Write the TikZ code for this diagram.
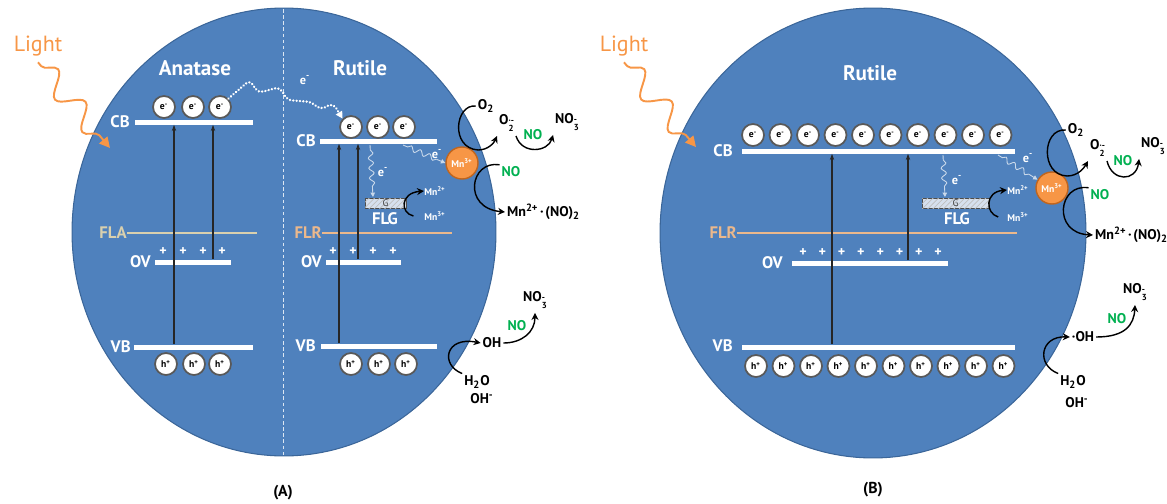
\documentclass[tikz,border=0pt]{standalone}
\usepackage{fontspec}
\setmainfont{PT Sans}
\usetikzlibrary{arrows.meta,decorations.pathmorphing,patterns}
\definecolor{tiblue}{HTML}{4F81BD}
\definecolor{tiedge}{HTML}{3B6699}
\definecolor{lightorange}{HTML}{F79646}
\definecolor{mnedge}{HTML}{C0651E}
\definecolor{nogreen}{HTML}{00B050}
\definecolor{flacol}{HTML}{D9D0AE}
\definecolor{flrcol}{HTML}{EBB88C}
\definecolor{gfill}{HTML}{D6E0EE}
\newcommand{\bandfont}{\fontsize{9.5}{10}\selectfont\bfseries}
\newcommand{\chemss}[2]{\raisebox{-0.55ex}{\fontsize{5}{5}\selectfont\begin{tabular}{@{}l@{}}#2\\[-0.35ex]#1\end{tabular}}}

\begin{document}
\begin{tikzpicture}[x=0.02cm,y=-0.02cm,
  bandline/.style={fill=white,inner sep=0pt,minimum height=0.1cm},
  bandlabel/.style={text=white,font=\bandfont,anchor=east,inner sep=0pt},
  carrier/.style={circle,draw=black!65,line width=1pt,fill=white,inner sep=0pt,minimum size=0.44cm,font=\fontsize{5.5}{5.5}\selectfont\bfseries},
  plusmark/.style={text=white,font=\fontsize{8}{8}\selectfont\bfseries,inner sep=0pt},
  excite/.style={draw=black!85,line width=0.6pt,-{Stealth[length=3.5pt,width=2.5pt]}},
  fermi/.style={line width=0.8pt},
  chem/.style={font=\fontsize{8}{9}\selectfont\bfseries,inner sep=1pt},
  nolabel/.style={chem,text=nogreen},
  react/.style={draw=black,line width=0.8pt,-{Stealth[length=4pt,width=4pt]}},
  ewave/.style={draw=white!70!tiblue,line width=0.5pt,-{Triangle[length=2.5pt,width=2.5pt]},decorate,decoration={snake,amplitude=0.5mm,segment length=2mm,pre length=1mm,post length=1.2mm}},
  elabel/.style={text=white,font=\fontsize{7}{7}\selectfont\bfseries,inner sep=0pt},
  gbox/.style={draw=black!70,line width=0.5pt,fill=gfill,postaction={pattern=north east lines,pattern color=black!25},minimum height=0.2cm,inner sep=0pt,text=black!75,font=\fontsize{5.5}{5.5}\selectfont},
  mnion/.style={circle,fill=lightorange,draw=mnedge,line width=0.8pt,minimum size=0.64cm,inner sep=0pt,text=white,font=\fontsize{5.5}{6}\selectfont\bfseries},
  smallion/.style={text=white,font=\fontsize{5.5}{6}\selectfont\bfseries,anchor=west,inner sep=0pt},
  lightwave/.style={draw=lightorange,line width=1.1pt,-{Triangle[length=6pt,width=6pt]},decorate,decoration={snake,amplitude=2.2mm,segment length=8.5mm,pre length=1mm,post length=3mm}},
  hop/.style={draw=white,line width=1.4pt,dash pattern=on 0.1pt off 1.8pt,line cap=round,rounded corners=3pt,-{Triangle[length=4pt,width=4pt]}},
  phase/.style={text=white,font=\fontsize{12}{14}\selectfont\bfseries},
  panel/.style={font=\fontsize{9}{10}\selectfont\bfseries}]
\useasboundingbox (0,0) rectangle (1167,504);
% Particles
\fill[tiblue,draw=tiedge,line width=0.6pt] (284,232) ellipse [x radius=4.24cm,y radius=4.48cm];
\fill[tiblue,draw=tiedge,line width=0.6pt] (873,233) ellipse [x radius=4.26cm,y radius=4.5cm];
\draw[white!80!tiblue,line width=0.5pt,dash pattern=on 2pt off 1.5pt] (283,9) -- (283,455);
% Light (A)
\node[text=lightorange,font=\fontsize{12.5}{14}\selectfont] (lightA) at (38,46) {Light};
\coordinate (lightAtip) at (110,148);
\draw[lightwave] (lightA.south) -- (lightAtip);
% Anatase bands
\node[phase] (anatase) at (195,68) {Anatase};
\node[bandline,minimum width=2.36cm] (cbA) at (194,122) {};
\node[bandline,minimum width=1.52cm] (ovA) at (193,262) {};
\node[bandline,minimum width=2.38cm] (vbA) at (193.5,347) {};
\node[bandlabel] (cbAl) at (130,122) {CB};
\node[bandlabel] (ovAl) at (151,262) {OV};
\node[bandlabel] (vbAl) at (131,347) {VB};
\node[bandlabel,text=flacol] (flA) at (127,233) {FLA};
\draw[fermi,flacol] (flA.east) -- (257,233);
\foreach \x [count=\i] in {164,193,220} \node[carrier] (eA\i) at (\x,107) {e\textsuperscript{-}};
\foreach \x [count=\i] in {166,194,220} \node[carrier] (hA\i) at (\x,364) {h\textsuperscript{+}};
\foreach \x [count=\i] in {163,183,203,222} \node[plusmark] (pA\i) at (\x,252) {+};
\coordinate (xA1) at (174,0);
\coordinate (xA2) at (213,0);
\draw[excite] (vbA.north -| xA1) -- (cbA.south -| xA1);
\draw[excite] (ovA.north -| xA2) -- (cbA.south -| xA2);
% Rutile bands (A)
\node[phase] (rutileA) at (360,68) {Rutile};
\node[bandline,minimum width=2.34cm] (cbRA) at (378.5,141) {};
\node[bandline,minimum width=1.5cm] (ovRA) at (363.5,262) {};
\node[bandline,minimum width=2.32cm] (vbRA) at (379,346) {};
\node[bandlabel] (cbRAl) at (316,141) {CB};
\node[bandlabel] (ovRAl) at (322,262) {OV};
\node[bandlabel] (vbRAl) at (316,346) {VB};
\node[bandlabel,text=flrcol] (flRA) at (322,233) {FLR};
\draw[fermi,flrcol] (flRA.east) -- (452,233);
\foreach \x [count=\i] in {351,378,404} \node[carrier] (eRA\i) at (\x,127) {e\textsuperscript{-}};
\foreach \x [count=\i] in {351,379,406} \node[carrier] (hRA\i) at (\x,364) {h\textsuperscript{+}};
\foreach \x [count=\i] in {333,353,373,393} \node[plusmark] (pRA\i) at (\x,252) {+};
\coordinate (xRA1) at (339,0);
\coordinate (xRA2) at (358,0);
\draw[excite] (vbRA.north -| xRA1) -- (cbRA.south -| xRA1);
\draw[excite] (ovRA.north -| xRA2) -- (cbRA.south -| xRA2);
% Electron hop anatase -> rutile
\draw[hop] (eA3.north east) -- (250,80) -- (258,93) -- (280,87) -- (287,100) -- (312,102) -- (320,110) -- (333,103) -- (eRA1.north west);
\node[elabel] (hopA) at (305,80) {e\textsuperscript{-}};
% Graphene and Mn (A)
\node[gbox,minimum width=0.82cm] (gA) at (385.5,203) {G};
\node[text=white,font=\bandfont] (flgA) at (385,219) {FLG};
\coordinate (cbRAout1) at (370,145);
\coordinate (gAin) at (373,197);
\draw[ewave] (cbRAout1) -- (gAin);
\node[elabel] (egA) at (383,172) {e\textsuperscript{-}};
\node[mnion] (mnA) at (462,163) {Mn\textsuperscript{3+}};
\coordinate (cbRAout2) at (403,145);
\draw[ewave] (cbRAout2) -- (mnA.west);
\node[elabel] (emnA) at (437,154) {e\textsuperscript{-}};
\node[smallion] (mn2A) at (424,191) {Mn\textsuperscript{2+}};
\node[smallion] (mn3A) at (424,216) {Mn\textsuperscript{3+}};
\draw[react] ([xshift=-6pt]mn3A.west) .. controls (400,213) and (400,193) .. (mn2A.west);
% Surface reactions (A)
\node[chem] (o2A) at (486,106) {O\textsubscript{2}};
\node[chem,anchor=south west] (supA) at (497,136) {O\chemss{2}{·-}};
\node[chem] (no3A) at (567,123) {NO\chemss{3}{-}};
\node[nolabel] (noA1) at (533,135) {NO};
\draw[react] (o2A.west) .. controls (455,104) and (450,148) .. (478,150) .. controls (488,150) and (494,143) .. (supA.south west);
\draw[react] (supA.south east) .. controls (522,155) and (548,152) .. (no3A.south west);
\node[nolabel] (noA2) at (511,172) {NO};
\node[chem,anchor=west] (mnnoA) at (505,212) {Mn\textsuperscript{2+}\kern1pt·\kern1pt(NO)\textsubscript{2}};
\draw[react] (noA2.north west) .. controls (470,160) and (462,208) .. (mnnoA.west);
\node[chem] (ohA) at (492,343) {OH};
\node[chem] (h2oA) at (477,382) {H\textsubscript{2}O};
\node[chem] (ohmA) at (482,399) {OH\textsuperscript{-}};
\draw[react] (h2oA.north west) .. controls (440,365) and (445,336) .. (ohA.west);
\node[nolabel] (noA3) at (517,326) {NO};
\node[chem] (no3A2) at (535,301) {NO\chemss{3}{-}};
\draw[react] (ohA.east) .. controls (522,343) and (535,332) .. (no3A2.south);
\node[panel] (labA) at (283,493) {(A)};
% Light (B)
\node[text=lightorange,font=\fontsize{12.5}{14}\selectfont] (lightB) at (624,46) {Light};
\coordinate (lightBtip) at (696,147);
\draw[lightwave] (lightB.south) -- (lightBtip);
% Rutile bands (B)
\node[phase] (rutileB) at (870,73) {Rutile};
\node[bandline,minimum width=5.46cm] (cbB) at (878.5,151) {};
\node[bandline,minimum width=3.12cm] (ovB) at (870,263) {};
\node[bandline,minimum width=5.46cm] (vbB) at (878.5,347) {};
\node[bandlabel] (cbBl) at (733,151) {CB};
\node[bandlabel] (ovBl) at (783,263) {OV};
\node[bandlabel] (vbBl) at (733,346) {VB};
\node[bandlabel,text=flrcol] (flB) at (737,233) {FLR};
\draw[fermi,flrcol] (flB.east) -- (1017,233);
\foreach \i in {0,...,9} \node[carrier] (eB\i) at ({753+27.5*\i},135) {e\textsuperscript{-}};
\foreach \i in {0,...,9} \node[carrier] (hB\i) at ({756+27.5*\i},366) {h\textsuperscript{+}};
\foreach \i in {0,...,7} \node[plusmark] (pB\i) at ({803+19.3*\i},253) {+};
\coordinate (xB1) at (832,0);
\coordinate (xB2) at (908,0);
\draw[excite] (vbB.north -| xB1) -- (cbB.south -| xB1);
\draw[excite] (ovB.north -| xB2) -- (cbB.south -| xB2);
% Graphene and Mn (B)
\node[gbox,minimum width=1.34cm] (gB) at (955.5,203) {G};
\node[text=white,font=\bandfont] (flgB) at (957,219) {FLG};
\coordinate (cbBout1) at (943,155);
\coordinate (gBin) at (945,197);
\draw[ewave] (cbBout1) -- (gBin);
\node[elabel] (egB) at (957,180) {e\textsuperscript{-}};
\node[mnion] (mnB) at (1052,188) {Mn\textsuperscript{3+}};
\coordinate (cbBout2) at (998,155);
\draw[ewave] (cbBout2) -- (mnB.150);
\node[elabel] (emnB) at (1028,158) {e\textsuperscript{-}};
\node[smallion] (mn2B) at (1007,190) {Mn\textsuperscript{2+}};
\node[smallion] (mn3B) at (1007,217) {Mn\textsuperscript{3+}};
\draw[react] ([xshift=-5pt]mn3B.west) .. controls (985,213) and (985,192) .. (mn2B.west);
% Surface reactions (B)
\node[chem] (o2B) at (1076,130) {O\textsubscript{2}};
\node[chem,anchor=south west] (supB) at (1088,161) {O\chemss{2}{·-}};
\node[chem] (no3B) at (1153,147) {NO\chemss{3}{-}};
\node[nolabel] (noB1) at (1123,161) {NO};
\draw[react] (o2B.west) .. controls (1042,128) and (1040,175) .. (1067,176) .. controls (1078,176) and (1084,168) .. (supB.south west);
\draw[react] (supB.south east) .. controls (1112,182) and (1136,182) .. (no3B.south west);
\node[nolabel] (noB2) at (1100,195) {NO};
\node[chem,anchor=west] (mnnoB) at (1093,235) {Mn\textsuperscript{2+}\kern1pt·\kern1pt(NO)\textsubscript{2}};
\draw[react] (noB2.north west) .. controls (1058,183) and (1052,233) .. (mnnoB.west);
\node[chem] (ohB) at (1083,337) {·OH};
\node[chem] (h2oB) at (1073,382) {H\textsubscript{2}O};
\node[chem] (ohmB) at (1077,403) {OH\textsuperscript{-}};
\draw[react] (h2oB.north west) .. controls (1036,365) and (1040,336) .. (ohB.west);
\node[nolabel] (noB3) at (1117,319) {NO};
\node[chem] (no3B2) at (1135,293) {NO\chemss{3}{-}};
\draw[react] (ohB.east) .. controls (1125,337) and (1134,325) .. (no3B2.south);
\node[panel] (labB) at (873,490) {(B)};
\end{tikzpicture}
\end{document}
